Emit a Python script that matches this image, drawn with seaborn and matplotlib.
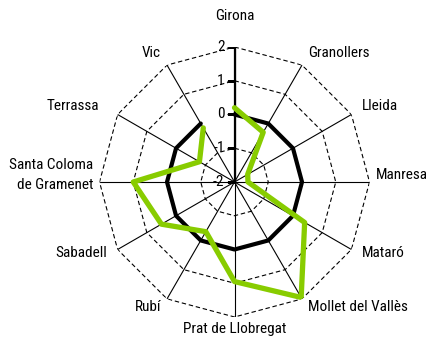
import numpy as np
import matplotlib
matplotlib.use('Agg')
import matplotlib.pyplot as plt
import matplotlib.transforms as mtransforms
from matplotlib import font_manager as fm
import seaborn as sns

# cities clockwise from the top
cities = ['Girona', 'Granollers', 'Lleida', 'Manresa', 'Mataró', 'Mollet del Vallès',
          'Prat de Llobregat', 'Rubí', 'Sabadell', 'Santa Coloma\nde Gramenet',
          'Terrassa', 'Vic']
values = [0.2, -0.3, -1.55, -1.6, 0.4, 1.95, 0.95, -0.3, 0.5, 1.0, -0.8, -0.15]
zero_ref = [0] * len(cities)
rticks = [-2, -1, 0, 1, 2]
grid_levels = [-1, 1, 2]

sns.set_style('white')
installed = set(f.name for f in fm.fontManager.ttflist)
wanted = ['Roboto Condensed', 'Archivo Narrow', 'PT Sans Narrow', 'Liberation Sans Narrow']
fam = [f for f in wanted if f in installed][:1] + ['DejaVu Sans']
plt.rcParams['font.family'] = fam
plt.rcParams['text.color'] = 'black'
fs = 11

fig = plt.figure(figsize=(4.26, 3.41), dpi=100)
ax = fig.add_axes([0.2336, 0.0704, 0.6338, 0.7918], projection='polar')
ax.set_theta_zero_location('N')
ax.set_theta_direction(-1)
ax.set_ylim(-2, 2)
ax.grid(False)
ax.spines['polar'].set_visible(False)
ax.set_xticks([])
ax.set_yticks([])
ax.set_facecolor('none')

n = len(cities)
angles = np.linspace(0, 2 * np.pi, n, endpoint=False)
closed = np.append(angles, angles[0])

# polygon grid
for lev in grid_levels:
    ax.plot(closed, [lev] * (n + 1), color='black', lw=0.8, ls=(0, (4, 2.5)))
for a in angles:
    ax.plot([a, a], [-2, 2], color='black', lw=0.8)
ax.plot([0, 0], [-2, 2], color='black', lw=1.6)
ax.plot(np.zeros(len(rticks)), rticks, ls='none', marker=0, ms=6, mew=0.9, color='black')

# series
sns.lineplot(x=closed, y=zero_ref + zero_ref[:1], sort=False, color='black', lw=3.0, ax=ax)
sns.lineplot(x=closed, y=values + values[:1], sort=False, color='#88CC00', lw=3.8, ax=ax)

# radial labels
off = mtransforms.offset_copy(ax.transData, fig=fig, x=-10, y=0, units='dots')
for t in rticks:
    ax.text(0, t, str(t), transform=off, ha='right', va='center', fontsize=fs)

# category labels
for a, name in zip(angles, cities):
    s, c = np.sin(a), np.cos(a)
    d, dx, dy = 12, 0, 2
    ha = 'left' if s > 0.01 else ('right' if s < -0.01 else 'center')
    va = 'center'
    if c > 0.99:
        va, d, dy = 'bottom', 24, 0
    elif c < -0.99:
        va, d, dy = 'top', 5, 0
    elif abs(s) > 0.99:
        d, dy = 6, 7
    if name == 'Terrassa':
        dx = -8
    tr = mtransforms.offset_copy(ax.transData, fig=fig, x=d * s + dx, y=d * c + dy, units='dots')
    ax.text(a, 2, name, transform=tr, ha=ha, va=va, fontsize=fs,
            multialignment='right', linespacing=1.55, clip_on=False)

fig.savefig('out.png', dpi=100)
